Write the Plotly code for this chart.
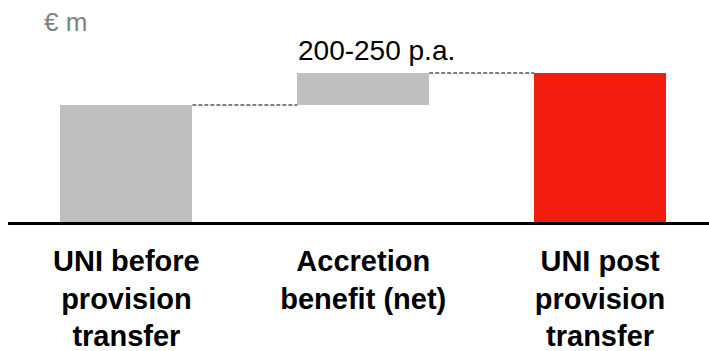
import plotly.graph_objects as go

# Waterfall values (EUR m)
categories = ["UNI before<br>provision<br>transfer", "Accretion<br>benefit (net)", "UNI post<br>provision<br>transfer"]
before_transfer = 820
accretion_benefit = 225
post_transfer = before_transfer + accretion_benefit
values = [before_transfer, accretion_benefit, post_transfer]
bases = [0, before_transfer, 0]
bar_colors = ["#BFBFBF", "#BFBFBF", "#F21D0D"]
benefit_label = "200-250 p.a."
unit_label = "€ m"

xpos = list(range(len(categories)))
bar_w = 0.557
FONT = "Liberation Sans, Arial, sans-serif"

fig = go.Figure()
fig.add_trace(go.Bar(
    x=xpos, y=values, base=bases, width=bar_w,
    marker=dict(color=bar_colors, line=dict(width=0)),
    showlegend=False, hoverinfo="skip",
))

# dashed connectors between consecutive bar ends
connectors = [
    (xpos[0] + bar_w / 2, xpos[1] - bar_w / 2, bases[1]),
    (xpos[1] + bar_w / 2, xpos[2] - bar_w / 2, bases[1] + values[1]),
]
for x0, x1, level in connectors:
    fig.add_trace(go.Scatter(
        x=[x0, x1], y=[level, level], mode="lines",
        line=dict(color="#7F7F7F", width=2, dash="4px,2px"),
        showlegend=False, hoverinfo="skip",
    ))

fig.add_annotation(
    x=xpos[1], y=post_transfer, text=benefit_label, showarrow=False,
    xanchor="center", yanchor="bottom", xshift=13, yshift=5,
    font=dict(family=FONT, size=28, color="#000000"),
)

plot_top, plot_bottom = 20, 222
ymax = post_transfer * (plot_bottom - plot_top) / (plot_bottom - 73)

fig.add_annotation(
    xref="paper", yref="paper", x=0.048, y=0.99, xanchor="left", yanchor="middle",
    text=unit_label, showarrow=False,
    font=dict(family=FONT, size=26, color="#808080"),
)

fig.update_layout(
    width=709, height=351,
    margin=dict(l=8, r=0, t=plot_top, b=351 - plot_bottom),
    paper_bgcolor="white", plot_bgcolor="white",
    bargap=0,
    xaxis=dict(
        range=[-0.5, 2.46], tickvals=xpos, ticktext=[f"<b>{c}</b>" for c in categories],
        showline=True, linecolor="#000000", linewidth=3, showgrid=False, zeroline=False,
        ticks="", ticklabelstandoff=11, automargin=False,
        tickfont=dict(family=FONT, size=29, color="#000000"),
    ),
    yaxis=dict(range=[0, ymax], visible=False, showgrid=False, zeroline=False, automargin=False),
)

fig.write_html("out.html")
